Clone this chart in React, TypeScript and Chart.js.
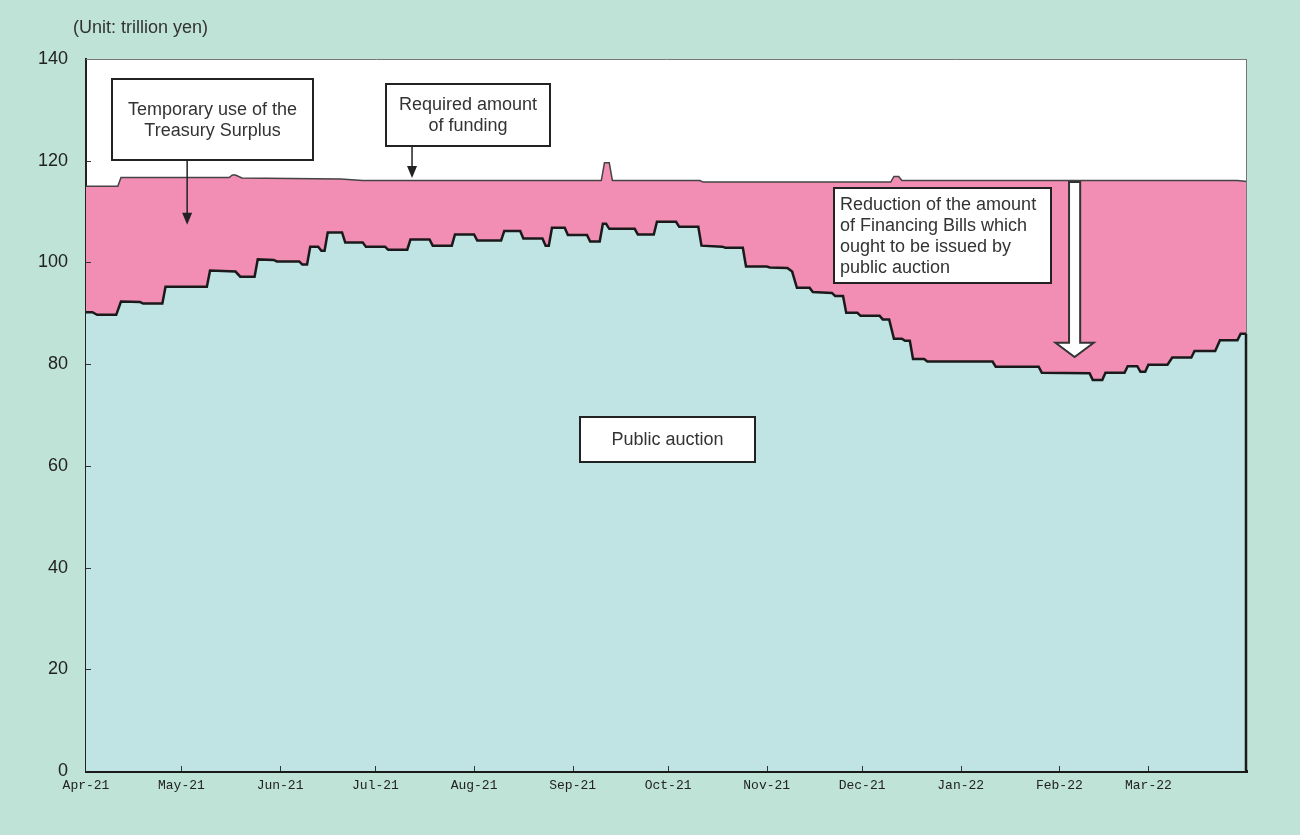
import React, { useEffect, useRef } from "react";
import { Chart, registerables } from "chart.js";

Chart.register(...registerables);

// ---- Data ----
const monthTickDays = [0, 30, 61, 91, 122, 153, 183, 214, 244, 275, 306, 334];
const monthLabels = ["Apr-21", "May-21", "Jun-21", "Jul-21", "Aug-21", "Sep-21", "Oct-21", "Nov-21", "Dec-21", "Jan-22", "Feb-22", "Mar-22"];
const yTickValues = [0, 20, 40, 60, 80, 100, 120, 140];

const auctionDays = [
  0, 2, 3.5, 9.5, 11, 17, 18, 24, 25, 38, 39, 47, 48.5, 53, 54, 59, 60, 67, 68, 69.5,
  70.5, 73, 74, 75, 76, 80.5, 81.5, 87, 88, 94, 95, 101, 102, 108, 109, 115, 116, 122, 123, 130.5,
  131.5, 136.5, 137.5, 143.5, 144.5, 145.5, 146.5, 150.5, 151.5, 157.5, 158.5, 161.5, 162.5, 163.5, 164.5, 172.5, 173.5, 178.5, 179.5, 185.5,
  186.5, 192.5, 193.5, 200, 201, 206.5, 207.5, 214, 215, 220.5, 222, 223.5, 227.5, 228.5, 234.5, 235.5, 238, 239, 242.5, 243.5,
  249.5, 250.5, 252.5, 254, 256.5, 257.5, 259, 260, 263.5, 264.5, 285, 286, 299.5, 300.5, 315.5, 316.5, 319.5, 320.5, 326.5, 327.5,
  330.5, 331.5, 333, 334, 340, 341.5, 347.5, 348.5, 355, 356.5, 362, 363, 365,
];
const auctionValues = [
  90.2, 90.2, 89.7, 89.7, 92.3, 92.2, 91.9, 91.9, 95.2, 95.2, 98.4, 98.2, 97.2, 97.2, 100.6, 100.5, 100.2, 100.2, 99.6, 99.6,
  103.1, 103.1, 102.3, 102.3, 105.9, 105.9, 103.9, 103.9, 103.1, 103.1, 102.5, 102.5, 104.5, 104.5, 103.3, 103.3, 105.5, 105.5, 104.3, 104.3,
  106.2, 106.2, 104.7, 104.7, 103.3, 103.3, 106.8, 106.8, 105.4, 105.4, 104.1, 104.1, 107.6, 107.6, 106.6, 106.6, 105.5, 105.5, 108.0, 108.0,
  107.0, 107.0, 103.3, 103.1, 102.9, 102.9, 99.2, 99.2, 99.0, 98.9, 98.2, 95.0, 95.0, 94.2, 94.0, 93.4, 93.4, 90.1, 90.1, 89.5,
  89.5, 88.8, 88.8, 85.0, 85.0, 84.6, 84.6, 81.0, 81.0, 80.5, 80.5, 79.5, 79.5, 78.3, 78.2, 76.9, 76.9, 78.3, 78.3, 79.6,
  79.6, 78.5, 78.5, 79.9, 79.9, 81.3, 81.3, 82.6, 82.6, 84.7, 84.7, 86.0, 86.0,
];

const requiredDays = [0, 10, 11, 45, 46, 47, 49, 80, 87, 162, 163, 164.5, 165.5, 193, 194, 253, 254, 255.5, 256.5, 362, 365];
const requiredValues = [115.0, 115.0, 116.7, 116.7, 117.2, 117.2, 116.6, 116.4, 116.1, 116.1, 119.6, 119.6, 116.1, 116.1, 115.8, 115.8, 116.9, 116.9, 116.1, 116.1, 115.9];

// ---- Annotations (in data coordinates: day, value) ----
const boxes = [
  { x0: 8.2, x1: 71.4, yTop: 136.1, yBot: 120.1, lines: ["Temporary use of the", "Treasury Surplus"], align: "center" },
  { x0: 94.3, x1: 145.9, yTop: 135.0, yBot: 122.9, lines: ["Required amount", "of funding"], align: "center" },
  { x0: 235.1, x1: 303.4, yTop: 114.6, yBot: 96.0, lines: ["Reduction of the amount", "of Financing Bills which", "ought to be issued by", "public auction"], align: "left" },
  { x0: 155.3, x1: 210.3, yTop: 69.6, yBot: 60.8, lines: ["Public auction"], align: "center" },
];
const smallArrows = [
  { x: 31.8, yFrom: 120.1, yTo: 107.4 },
  { x: 102.5, yFrom: 122.9, yTo: 116.6 },
];
const hollowArrow = { x: 310.8, halfShaft: 1.75, halfHead: 6.0, yTop: 115.8, yHead: 84.2, yTip: 81.4 };

const BG = "#bfe3d6";
const CYAN = "#c0e3e4";
const PINK = "#f28db3";
const TEXT = "#333333";
const FONT = "'Liberation Sans', Arial, sans-serif";

const decorPlugin = {
  id: "decor",
  beforeDraw(chart: any) {
    const { ctx, chartArea: a } = chart;
    ctx.save();
    ctx.fillStyle = BG;
    ctx.fillRect(0, 0, chart.width, chart.height);
    ctx.fillStyle = "#ffffff";
    ctx.fillRect(a.left, a.top, a.right - a.left, a.bottom - a.top);
    ctx.fillStyle = TEXT;
    ctx.font = `18px ${FONT}`;
    ctx.textBaseline = "middle";
    ctx.textAlign = "left";
    ctx.fillText("(Unit: trillion yen)", 73, 28);
    ctx.restore();
  },
  afterDraw(chart: any) {
    const { ctx, chartArea: a } = chart;
    const xs = chart.scales.x;
    const ys = chart.scales.y;
    ctx.save();
    // frame top / right
    ctx.strokeStyle = "#777";
    ctx.lineWidth = 1;
    ctx.beginPath();
    ctx.moveTo(a.left, a.top + 0.5);
    ctx.lineTo(a.right, a.top + 0.5);
    ctx.moveTo(a.right - 0.5, a.top);
    ctx.lineTo(a.right - 0.5, a.bottom);
    ctx.stroke();
    // right edge of auction area
    ctx.strokeStyle = "#1a1a1a";
    ctx.lineWidth = 2.5;
    ctx.beginPath();
    ctx.moveTo(a.right - 1, ys.getPixelForValue(auctionValues[auctionValues.length - 1]));
    ctx.lineTo(a.right - 1, a.bottom);
    ctx.stroke();
    // inner ticks
    ctx.strokeStyle = "#333";
    ctx.lineWidth = 1;
    ctx.beginPath();
    monthTickDays.forEach((d, i) => {
      if (i === 0) return;
      const px = Math.round(xs.getPixelForValue(d)) + 0.5;
      ctx.moveTo(px, a.bottom);
      ctx.lineTo(px, a.bottom - 5);
    });
    yTickValues.forEach((v) => {
      if (v === 0 || v === 140) return;
      const py = Math.round(ys.getPixelForValue(v)) + 0.5;
      ctx.moveTo(a.left, py);
      ctx.lineTo(a.left + 5, py);
    });
    ctx.stroke();

    // small arrows
    ctx.strokeStyle = "#222";
    ctx.fillStyle = "#222";
    smallArrows.forEach((ar) => {
      const px = xs.getPixelForValue(ar.x);
      const y0 = ys.getPixelForValue(ar.yFrom);
      const y1 = ys.getPixelForValue(ar.yTo);
      ctx.lineWidth = 1.5;
      ctx.beginPath();
      ctx.moveTo(px, y0);
      ctx.lineTo(px, y1 - 10);
      ctx.stroke();
      ctx.beginPath();
      ctx.moveTo(px - 5, y1 - 12);
      ctx.lineTo(px + 5, y1 - 12);
      ctx.lineTo(px, y1);
      ctx.closePath();
      ctx.fill();
    });

    // hollow arrow
    const h = hollowArrow;
    const cx = xs.getPixelForValue(h.x);
    const sw = xs.getPixelForValue(h.x + h.halfShaft) - cx;
    const hw = xs.getPixelForValue(h.x + h.halfHead) - cx;
    const yt = ys.getPixelForValue(h.yTop);
    const yh = ys.getPixelForValue(h.yHead);
    const ytip = ys.getPixelForValue(h.yTip);
    ctx.beginPath();
    ctx.moveTo(cx - sw, yt);
    ctx.lineTo(cx + sw, yt);
    ctx.lineTo(cx + sw, yh);
    ctx.lineTo(cx + hw, yh);
    ctx.lineTo(cx, ytip);
    ctx.lineTo(cx - hw, yh);
    ctx.lineTo(cx - sw, yh);
    ctx.closePath();
    ctx.fillStyle = "#ffffff";
    ctx.fill();
    ctx.strokeStyle = "#333";
    ctx.lineWidth = 2;
    ctx.stroke();

    // boxes
    boxes.forEach((b) => {
      const x0 = Math.round(xs.getPixelForValue(b.x0));
      const x1 = Math.round(xs.getPixelForValue(b.x1));
      const y0 = Math.round(ys.getPixelForValue(b.yTop));
      const y1 = Math.round(ys.getPixelForValue(b.yBot));
      ctx.fillStyle = "#ffffff";
      ctx.fillRect(x0, y0, x1 - x0, y1 - y0);
      ctx.strokeStyle = "#222";
      ctx.lineWidth = 2;
      ctx.strokeRect(x0, y0, x1 - x0, y1 - y0);
      ctx.fillStyle = TEXT;
      ctx.font = `18px ${FONT}`;
      ctx.textBaseline = "middle";
      const cy = (y0 + y1) / 2 + 1;
      const n = b.lines.length;
      b.lines.forEach((line, i) => {
        const ly = cy + (i - (n - 1) / 2) * 21;
        if (b.align === "left") {
          ctx.textAlign = "left";
          ctx.fillText(line, x0 + 6, ly);
        } else {
          ctx.textAlign = "center";
          ctx.fillText(line, (x0 + x1) / 2, ly);
        }
      });
    });
    ctx.restore();
  },
};

export default function App() {
  const ref = useRef<HTMLCanvasElement | null>(null);

  useEffect(() => {
    document.body.style.margin = "0";
    const canvas = ref.current;
    if (!canvas) return;
    const auctionPts = auctionDays.map((d, i) => ({ x: d, y: auctionValues[i] }));
    const requiredPts = requiredDays.map((d, i) => ({ x: d, y: requiredValues[i] }));
    const chart = new Chart(canvas, {
      type: "line",
      data: {
        datasets: [
          {
            label: "Public auction",
            data: auctionPts,
            borderColor: "#1a1a1a",
            borderWidth: 2.5,
            backgroundColor: CYAN,
            fill: "origin",
            pointRadius: 0,
            tension: 0,
          },
          {
            label: "Required amount of funding",
            data: requiredPts,
            borderColor: "#444",
            borderWidth: 1.5,
            backgroundColor: PINK,
            fill: "-1",
            pointRadius: 0,
            tension: 0,
          },
        ],
      },
      options: {
        animation: false,
        responsive: false,
        maintainAspectRatio: false,
        parsing: false as any,
        layout: { padding: { top: 59, right: 53, left: 0, bottom: 0 } },
        plugins: { legend: { display: false }, tooltip: { enabled: false } },
        scales: {
          x: {
            type: "linear",
            min: 0,
            max: 365,
            afterBuildTicks: (s: any) => {
              s.ticks = monthTickDays.map((v) => ({ value: v }));
            },
            afterFit: (s: any) => {
              s.height = 64;
            },
            ticks: {
              autoSkip: false,
              maxRotation: 0,
              padding: 7,
              color: "#222",
              font: { family: "'Liberation Mono', 'DejaVu Sans Mono', monospace", size: 13 },
              callback: (v: any) => {
                const idx = monthTickDays.indexOf(Number(v));
                return idx >= 0 ? monthLabels[idx] : "";
              },
            },
            grid: { display: false, drawTicks: false },
            border: { display: true, color: "#1a1a1a", width: 3 },
          },
          y: {
            min: 0,
            max: 140,
            afterBuildTicks: (s: any) => {
              s.ticks = yTickValues.map((v) => ({ value: v }));
            },
            afterFit: (s: any) => {
              s.width = 86;
            },
            ticks: {
              padding: 18,
              color: "#222",
              font: { family: FONT, size: 18 },
            },
            grid: { display: false, drawTicks: false },
            border: { display: true, color: "#222", width: 2 },
          },
        },
      },
      plugins: [decorPlugin],
    });
    return () => chart.destroy();
  }, []);

  return (
    <div style={{ width: 1300, height: 835, background: BG }}>
      <canvas ref={ref} width={1300} height={835} style={{ display: "block" }} />
    </div>
  );
}
